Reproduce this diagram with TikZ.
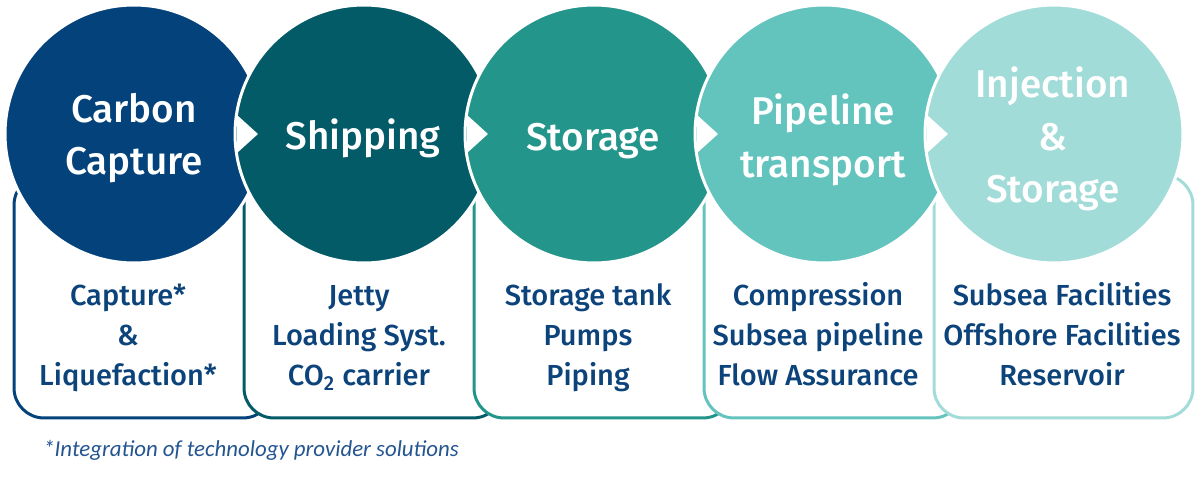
\documentclass[tikz,border=0pt]{standalone}
\usepackage{fontspec}
\setmainfont{Fira Sans}[UprightFont={* Medium}]
\newfontfamily\footfont{Carlito}
\definecolor{cA}{HTML}{03427A}
\definecolor{cB}{HTML}{035B68}
\definecolor{cC}{HTML}{23958A}
\definecolor{cD}{HTML}{63C4BE}
\definecolor{cE}{HTML}{A2DCD8}
\definecolor{txtblue}{HTML}{0B437A}
\definecolor{footblue}{HTML}{245591}
\begin{document}
\begin{tikzpicture}[x=0.02cm,y=-0.02cm,
  stagebox/.style={draw=#1, fill=white, line width=1.7pt, rounded corners=0.6cm,
    rectangle, minimum width=5.18cm, minimum height=4.86cm, inner sep=0pt},
  disc/.style={circle, fill=#1, draw=white, line width=1.7pt, minimum size=5.16cm, inner sep=0pt},
  notchfill/.style={fill=white},
  title/.style={text=white, font=\fontsize{22}{26}\selectfont, anchor=base, inner sep=0pt},
  item/.style={text=txtblue, font=\fontsize{16.5}{20}\selectfont, anchor=base, inner sep=0pt},
  foot/.style={text=footblue, font=\footfont\itshape\fontsize{13}{15}\selectfont, anchor=base west, inner sep=0pt}]
\useasboundingbox (0,0) rectangle (1200,479);
% boxes
\node[stagebox=cA] (b1) at (143.5,296.5) {};
\node[stagebox=cB] (b2) at (373.5,296.5) {};
\node[stagebox=cC] (b3) at (603.5,296.5) {};
\node[stagebox=cD] (b4) at (833.5,296.5) {};
\node[stagebox=cE] (b5) at (1063.5,296.5) {};
% circles
\node[disc=cA] (c1) at (134,134) {};
\node[disc=cB] (c2) at (364,134) {};
\fill[notchfill] ([shift={(-127,-19)}]c2.center) -- ([shift={(-106,0)}]c2.center) -- ([shift={(-127,19)}]c2.center) -- cycle;
\node[disc=cC] (c3) at (594,134) {};
\fill[notchfill] ([shift={(-127,-19)}]c3.center) -- ([shift={(-106,0)}]c3.center) -- ([shift={(-127,19)}]c3.center) -- cycle;
\node[disc=cD] (c4) at (824,134) {};
\fill[notchfill] ([shift={(-127,-19)}]c4.center) -- ([shift={(-106,0)}]c4.center) -- ([shift={(-127,19)}]c4.center) -- cycle;
\node[disc=cE] (c5) at (1054,134) {};
\fill[notchfill] ([shift={(-127,-19)}]c5.center) -- ([shift={(-106,0)}]c5.center) -- ([shift={(-127,19)}]c5.center) -- cycle;
% titles
\node[title] (t1a) at (134,123) {Carbon};
\node[title] (t1b) at (134,175) {Capture};
\node[title] (t2a) at (363,150) {Shipping};
\node[title] (t3a) at (593,151) {Storage};
\node[title] (t4a) at (823,125) {Pipeline};
\node[title] (t4b) at (823,178) {transport};
\node[title] (t5a) at (1053,98) {Injection};
\node[title] (t5b) at (1053,151) {\&};
\node[title] (t5c) at (1053,203) {Storage};
% items
\node[item] (i1a) at (128,306) {Capture*};
\node[item] (i1b) at (128,346) {\&};
\node[item] (i1c) at (128,386) {Liquefaction*};
\node[item] (i2a) at (359,306) {Jetty};
\node[item] (i2b) at (359,346) {Loading Syst.};
\node[item] (i2c) at (359,386) {CO\textsubscript{2} carrier};
\node[item] (i3a) at (588,306) {Storage tank};
\node[item] (i3b) at (588,346) {Pumps};
\node[item] (i3c) at (588,386) {Piping};
\node[item] (i4a) at (818,306) {Compression};
\node[item] (i4b) at (818,346) {Subsea pipeline};
\node[item] (i4c) at (818,386) {Flow Assurance};
\node[item] (i5a) at (1062,306) {Subsea Facilities};
\node[item] (i5b) at (1062,346) {Offshore Facilities};
\node[item] (i5c) at (1062,386) {Reservoir};
% footnote
\node[foot] (fn) at (43,456) {*Integration of technology provider solutions};
\end{tikzpicture}
\end{document}
